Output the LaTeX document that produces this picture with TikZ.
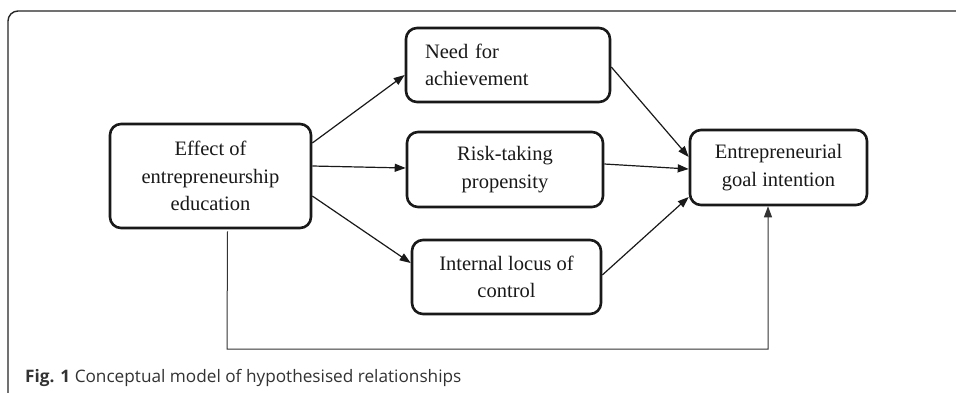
\documentclass[tikz,border=0pt]{standalone}
\usepackage{fontspec}
\setmainfont{Liberation Serif}
\newfontfamily\capfont{Open Sans}
\usetikzlibrary{arrows.meta,calc}
\begin{document}
\begin{tikzpicture}[x=1pt,y=-1pt,
  box/.style={draw=black!90, line width=2.6pt, rounded corners=11pt, inner sep=0pt,
    align=center, text=black!90, font=\fontsize{20.5}{27.5}\selectfont},
  arr/.style={draw=black!90, line width=1.2pt, -{Triangle[length=11pt,width=8pt]}},
  thinarr/.style={draw=black!80, line width=1pt, -{Triangle[length=11pt,width=8pt]}},
  frame/.style={draw=black!85, line width=1.4pt, rounded corners=10pt},
]
\useasboundingbox (0,0) rectangle (956,392);
\fill[white] (0,0) rectangle (956,392);
\draw[frame] (8,393) -- (8,11) -- (957,11);

\node[box, minimum width=201pt, minimum height=104pt] (eff) at (210.5,176)
  {Effect of\\entrepreneurship\\education};
\node[box, align=left, text width=166pt, inner xsep=19pt, minimum height=74pt] (ach) at (508,65)
  {Need for\\achievement};
\node[box, minimum width=196pt, minimum height=75pt] (risk) at (505,169.5)
  {Risk-taking\\propensity};
\node[box, minimum width=189pt, minimum height=74pt] (loc) at (506.5,277)
  {Internal locus of\\control};
\node[box, minimum width=177pt, minimum height=75pt] (ent) at (778.5,167.5)
  {Entrepreneurial\\goal intention};

\draw[arr] ($(eff.east)+(0,-33)$) -- ($(ach.west)+(0,10)$);
\draw[arr] ($(eff.east)+(0,-10)$) -- ($(risk.west)+(0,-1.5)$);
\draw[arr] ($(eff.east)+(0,20)$) -- ($(loc.west)+(0,-14)$);
\draw[arr] ($(ach.east)+(0,2)$) -- ($(ent.west)+(0,-10.5)$);
\draw[arr] ($(risk.east)+(0,-5.5)$) -- ($(ent.west)+(0,1.5)$);
\draw[arr] ($(loc.east)+(0,-2)$) -- ($(ent.west)+(0,29.5)$);

\coordinate (c1) at (227,349);
\draw[thinarr] ($(eff.south)+(17,2)$) -- (c1) -| ($(ent.south)+(-10.5,0)$);

\node[anchor=base west, inner sep=0pt, text=black!80] (cap) at (25,382)
  {\capfont\fontsize{17.2}{20}\selectfont\textbf{Fig. 1} Conceptual model of hypothesised relationships};
\end{tikzpicture}
\end{document}
